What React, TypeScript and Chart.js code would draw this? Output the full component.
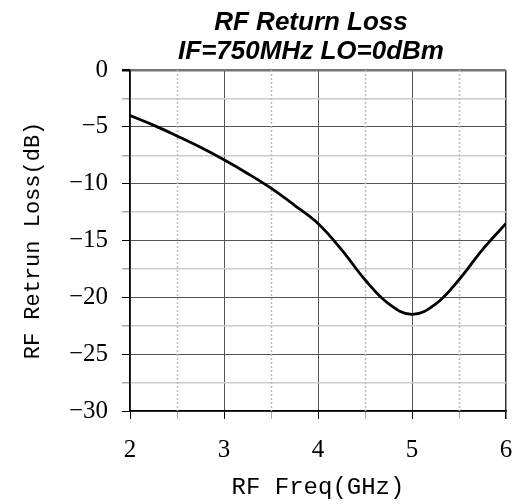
import React, { useEffect, useRef } from "react";
import { Chart, registerables } from "chart.js";

Chart.register(...registerables);

const freqGHz = [2, 2.25, 2.5, 2.75, 3, 3.25, 3.5, 3.75, 4, 4.25, 4.5, 4.75, 5, 5.25, 5.5, 5.75, 6];
const returnLossDb = [-4.0, -4.85, -5.8, -6.8, -7.9, -9.1, -10.4, -11.9, -13.5, -15.8, -18.45, -20.55, -21.5, -20.6, -18.45, -15.8, -13.5];
const minorFreqGrid = [2.5, 3.5, 4.5, 5.5];
const titleLines = ["RF Return Loss", "IF=750MHz LO=0dBm"];
const xTitle = "RF Freq(GHz)";
const yTitle = "RF Retrun Loss(dB)";

const isMult = (v: number, m: number) => Math.abs(v / m - Math.round(v / m)) < 1e-6;

const titlePlugin = {
  id: "customTitle",
  afterDraw(chart: any) {
    const { ctx, chartArea } = chart;
    const cx = (chartArea.left + chartArea.right) / 2 - 7;
    ctx.save();
    ctx.fillStyle = "#000";
    ctx.font = "bold italic 26px 'Liberation Sans', Arial, sans-serif";
    ctx.textAlign = "center";
    ctx.textBaseline = "middle";
    ctx.fillText(titleLines[0], cx, 23);
    ctx.fillText(titleLines[1], cx, 52);
    ctx.restore();
  },
};

const minorGridPlugin = {
  id: "minorGrid",
  beforeDatasetsDraw(chart: any) {
    const { ctx, chartArea } = chart;
    const xs = chart.scales.x;
    ctx.save();
    ctx.strokeStyle = "#bbbbbb";
    ctx.lineWidth = 1.5;
    ctx.setLineDash([2, 2]);
    for (const v of minorFreqGrid) {
      const px = Math.round(xs.getPixelForValue(v)) + 0.5;
      ctx.beginPath();
      ctx.moveTo(px, chartArea.top);
      ctx.lineTo(px, chartArea.bottom);
      ctx.stroke();
    }
    ctx.restore();
  },
};

export default function App() {
  const ref = useRef<HTMLCanvasElement | null>(null);
  useEffect(() => {
    if (!ref.current) return;
    const chart = new Chart(ref.current, {
      type: "line",
      data: {
        datasets: [
          {
            data: freqGHz.map((x, i) => ({ x, y: returnLossDb[i] })),
            borderColor: "#000",
            borderWidth: 2.8,
            pointRadius: 0,
            tension: 0.4,
            fill: false,
          },
        ],
      },
      options: {
        animation: false,
        responsive: false,
        layout: { padding: { top: 70, right: 15, left: 0, bottom: 0 } },
        plugins: { legend: { display: false }, title: { display: false }, tooltip: { enabled: false } },
        scales: {
          x: {
            type: "linear",
            min: 2,
            max: 6,
            afterFit: (s: any) => {
              s.height = 93;
              s.paddingRight = 0;
              s.paddingLeft = 0;
            },
            ticks: {
              stepSize: 0.5,
              autoSkip: false,
              maxRotation: 0,
              padding: 16,
              color: "#000",
              font: { family: "'Liberation Serif', serif", size: 25 },
              callback: (v: any) => (isMult(Number(v), 1) ? String(v) : ""),
            },
            grid: {
              color: (c: any) => (isMult(c.tick.value, 1) ? (c.tick.value === 6 ? "#333" : "#555") : "transparent"),
              lineWidth: (c: any) => (c.tick.value === 6 ? 1.5 : 1),
              tickLength: 8,
              tickColor: (c: any) => (isMult(c.tick.value, 1) ? "#000" : "#aaa"),
            },
            border: { color: "#000", width: 1.5 },
            title: {
              display: true,
              text: xTitle,
              color: "#000",
              font: { family: "'Liberation Mono', monospace", size: 24 },
              padding: { top: 0, bottom: 2 },
            },
          },
          y: {
            type: "linear",
            min: -30,
            max: 0,
            afterFit: (s: any) => { s.width = 130; },
            ticks: {
              stepSize: 2.5,
              autoSkip: false,
              padding: 14,
              color: "#000",
              font: { family: "'Liberation Serif', serif", size: 25 },
              callback: (v: any) => (isMult(Number(v), 5) ? String(v).replace("-", "\u2212") : ""),
            },
            grid: {
              color: (c: any) => (isMult(c.tick.value, 5) ? (c.tick.value === 0 ? "#777" : "#555") : "#cccccc"),
              lineWidth: (c: any) => (c.tick.value === 0 ? 2.5 : isMult(c.tick.value, 5) ? 1 : 1.5),
              tickLength: 8,
              tickColor: (c: any) => (isMult(c.tick.value, 5) ? "#000" : "#aaa"),
            },
            border: { color: "#000", width: 1.5 },
            title: {
              display: true,
              text: yTitle,
              color: "#000",
              font: { family: "'Liberation Mono', monospace", size: 22 },
              padding: { top: 20, bottom: 0 },
            },
          },
        },
      },
      plugins: [titlePlugin, minorGridPlugin],
    } as any);
    return () => chart.destroy();
  }, []);
  return (
    <div style={{ position: "absolute", left: 0, top: 0, width: 521, height: 504 }}>
      <canvas ref={ref} width={521} height={504} />
    </div>
  );
}
